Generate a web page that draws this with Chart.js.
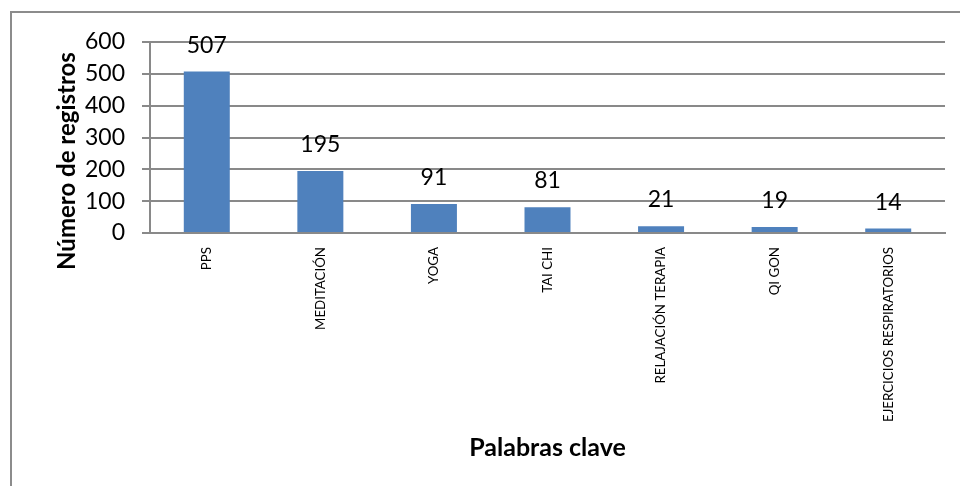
<!DOCTYPE html>
<html>
<head>
<meta charset="utf-8">
<script src="https://cdn.jsdelivr.net/npm/chart.js@4/dist/chart.umd.min.js"></script>
<style>
  html, body { margin: 0; padding: 0; background: #ffffff; }
  #wrap { width: 960px; height: 486px; position: relative; }
</style>
</head>
<body>
<div id="wrap"><canvas id="c" width="960" height="486"></canvas></div>
<script>
const categories = ["PPS", "MEDITACIÓN", "YOGA", "TAI CHI", "RELAJACIÓN TERAPIA", "QI GON", "EJERCICIOS RESPIRATORIOS"];
const values = [507, 195, 91, 81, 21, 19, 14];
const yTicks = [0, 100, 200, 300, 400, 500, 600];
const yTitle = "Número de registros";
const xTitle = "Palabras clave";

const FONT = "Lato, 'Open Sans', sans-serif";
const GRID = "#898989";

const decorPlugin = {
  id: 'decor',
  beforeDraw(chart) {
    const ctx = chart.ctx;
    ctx.save();
    ctx.fillStyle = '#ffffff';
    ctx.fillRect(0, 0, chart.width, chart.height);
    ctx.strokeStyle = '#8c8c8c';
    ctx.lineWidth = 2;
    ctx.beginPath();
    ctx.moveTo(11, chart.height + 5);
    ctx.lineTo(11, 12);
    ctx.lineTo(chart.width + 5, 12);
    ctx.stroke();
    ctx.restore();
  },
  afterDatasetsDraw(chart) {
    const ctx = chart.ctx;
    const meta = chart.getDatasetMeta(0);
    ctx.save();
    ctx.fillStyle = '#000000';
    ctx.font = "23px " + FONT;
    ctx.textAlign = 'center';
    ctx.textBaseline = 'alphabetic';
    meta.data.forEach((bar, i) => {
      ctx.fillText(String(values[i]), bar.x, bar.y - 19);
    });
    // y axis title
    ctx.font = "bold 24px " + FONT;
    ctx.translate(67, 161);
    ctx.rotate(-Math.PI / 2);
    ctx.textBaseline = 'middle';
    ctx.fillText(yTitle, 0, 0);
    ctx.restore();
  }
};

new Chart(document.getElementById('c'), {
  type: 'bar',
  data: {
    labels: categories,
    datasets: [{
      data: values,
      backgroundColor: '#4F81BD',
      borderWidth: 0,
      barPercentage: 0.405,
      categoryPercentage: 1.0
    }]
  },
  options: {
    responsive: false,
    animation: false,
    devicePixelRatio: 1,
    layout: { padding: { left: 0, top: 42, right: 15, bottom: 0 } },
    plugins: { legend: { display: false }, tooltip: { enabled: false } },
    scales: {
      x: {
        grid: { display: false },
        border: { display: true, color: GRID, width: 2 },
        ticks: {
          color: '#000000',
          font: { family: FONT, size: 13.3 },
          minRotation: 90,
          maxRotation: 90,
          autoSkip: false,
          padding: 6
        },
        title: {
          display: true,
          text: xTitle,
          color: '#000000',
          font: { family: FONT, size: 25, weight: 'bold' },
          padding: { top: 0, bottom: 23 }
        },
        afterFit(scale) { scale.height = 253; }
      },
      y: {
        min: 0,
        max: 600,
        afterBuildTicks(scale) { scale.ticks = yTicks.map(v => ({ value: v })); },
        grid: { color: GRID, lineWidth: 2, tickLength: 8, drawTicks: true },
        border: { display: true, color: GRID, width: 2 },
        ticks: {
          color: '#000000',
          font: { family: FONT, size: 23 },
          padding: 17
        },
        afterFit(scale) { scale.width = 150; }
      }
    }
  },
  plugins: [decorPlugin]
});
</script>
</body>
</html>
